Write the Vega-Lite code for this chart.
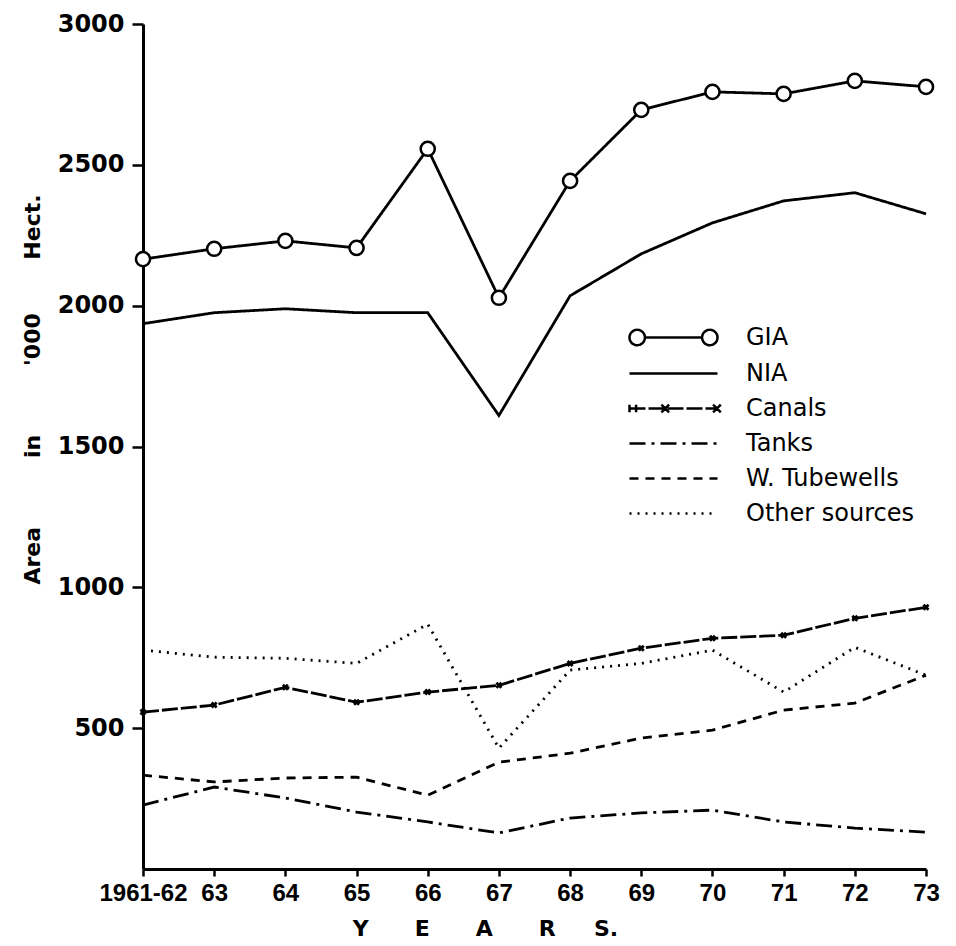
{
  "$schema": "https://vega.github.io/schema/vega-lite/v6.json",
  "width": 783,
  "height": 845,
  "autosize": {"type": "none"},
  "padding": {"left": 143, "top": 24, "right": 30, "bottom": 77},
  "background": "white",
  "config": {
    "view": {"stroke": null},
    "axis": {"domainColor": "black", "tickColor": "black", "labelColor": "black", "titleColor": "black", "grid": false}
  },
  "data": {"values": [
    {"year": "1961-62", "series": "GIA", "value": 2165},
    {"year": "63", "series": "GIA", "value": 2202},
    {"year": "64", "series": "GIA", "value": 2230},
    {"year": "65", "series": "GIA", "value": 2205},
    {"year": "66", "series": "GIA", "value": 2557},
    {"year": "67", "series": "GIA", "value": 2028},
    {"year": "68", "series": "GIA", "value": 2443},
    {"year": "69", "series": "GIA", "value": 2695},
    {"year": "70", "series": "GIA", "value": 2759},
    {"year": "71", "series": "GIA", "value": 2752},
    {"year": "72", "series": "GIA", "value": 2798},
    {"year": "73", "series": "GIA", "value": 2777},
    {"year": "1961-62", "series": "NIA", "value": 1936},
    {"year": "63", "series": "NIA", "value": 1975},
    {"year": "64", "series": "NIA", "value": 1989},
    {"year": "65", "series": "NIA", "value": 1975},
    {"year": "66", "series": "NIA", "value": 1975},
    {"year": "67", "series": "NIA", "value": 1610},
    {"year": "68", "series": "NIA", "value": 2035},
    {"year": "69", "series": "NIA", "value": 2184},
    {"year": "70", "series": "NIA", "value": 2294},
    {"year": "71", "series": "NIA", "value": 2372},
    {"year": "72", "series": "NIA", "value": 2401},
    {"year": "73", "series": "NIA", "value": 2326},
    {"year": "1961-62", "series": "Canals", "value": 557},
    {"year": "63", "series": "Canals", "value": 582},
    {"year": "64", "series": "Canals", "value": 645},
    {"year": "65", "series": "Canals", "value": 592},
    {"year": "66", "series": "Canals", "value": 628},
    {"year": "67", "series": "Canals", "value": 652},
    {"year": "68", "series": "Canals", "value": 730},
    {"year": "69", "series": "Canals", "value": 784},
    {"year": "70", "series": "Canals", "value": 819},
    {"year": "71", "series": "Canals", "value": 830},
    {"year": "72", "series": "Canals", "value": 890},
    {"year": "73", "series": "Canals", "value": 929},
    {"year": "1961-62", "series": "Tanks", "value": 227},
    {"year": "63", "series": "Tanks", "value": 291},
    {"year": "64", "series": "Tanks", "value": 252},
    {"year": "65", "series": "Tanks", "value": 202},
    {"year": "66", "series": "Tanks", "value": 167},
    {"year": "67", "series": "Tanks", "value": 128},
    {"year": "68", "series": "Tanks", "value": 181},
    {"year": "69", "series": "Tanks", "value": 199},
    {"year": "70", "series": "Tanks", "value": 209},
    {"year": "71", "series": "Tanks", "value": 167},
    {"year": "72", "series": "Tanks", "value": 145},
    {"year": "73", "series": "Tanks", "value": 131},
    {"year": "1961-62", "series": "W. Tubewells", "value": 333},
    {"year": "63", "series": "W. Tubewells", "value": 309},
    {"year": "64", "series": "W. Tubewells", "value": 323},
    {"year": "65", "series": "W. Tubewells", "value": 326},
    {"year": "66", "series": "W. Tubewells", "value": 262},
    {"year": "67", "series": "W. Tubewells", "value": 379},
    {"year": "68", "series": "W. Tubewells", "value": 411},
    {"year": "69", "series": "W. Tubewells", "value": 465},
    {"year": "70", "series": "W. Tubewells", "value": 493},
    {"year": "71", "series": "W. Tubewells", "value": 564},
    {"year": "72", "series": "W. Tubewells", "value": 589},
    {"year": "73", "series": "W. Tubewells", "value": 688},
    {"year": "1961-62", "series": "Other sources", "value": 777},
    {"year": "63", "series": "Other sources", "value": 752},
    {"year": "64", "series": "Other sources", "value": 748},
    {"year": "65", "series": "Other sources", "value": 730},
    {"year": "66", "series": "Other sources", "value": 869},
    {"year": "67", "series": "Other sources", "value": 429},
    {"year": "68", "series": "Other sources", "value": 706},
    {"year": "69", "series": "Other sources", "value": 730},
    {"year": "70", "series": "Other sources", "value": 777},
    {"year": "71", "series": "Other sources", "value": 628},
    {"year": "72", "series": "Other sources", "value": 787},
    {"year": "73", "series": "Other sources", "value": 688}
  ]},
  "encoding": {
    "x": {
      "field": "year", "type": "ordinal",
      "sort": ["1961-62", "63", "64", "65", "66", "67", "68", "69", "70", "71", "72", "73"],
      "scale": {"type": "point", "padding": 0},
      "axis": {
        "title": "Y\u00a0\u00a0\u00a0\u00a0\u00a0\u00a0E\u00a0\u00a0\u00a0\u00a0\u00a0\u00a0A\u00a0\u00a0\u00a0\u00a0\u00a0\u00a0R\u00a0\u00a0\u00a0\u00a0\u00a0S.",
        "titleFont": "DejaVu Sans", "titleFontSize": 22, "titleFontWeight": "bold",
        "titleX": 342, "titleY": 59, "titleAnchor": null, "titleAlign": "center", "titleBaseline": "middle",
        "labelAngle": 0, "labelFont": "Liberation Sans",
        "labelFontSize": 24, "labelFontWeight": "bold", "labelPadding": 5, "labelOverlap": false,
        "domainWidth": 3, "tickSize": 7, "tickWidth": 2.5
      }
    },
    "y": {
      "field": "value", "type": "quantitative",
      "scale": {"domain": [0, 3000], "nice": false},
      "axis": {
        "values": [500, 1000, 1500, 2000, 2500, 3000], "format": "d",
        "title": "Area\u00a0\u00a0\u00a0\u00a0\u00a0\u00a0\u00a0\u00a0\u00a0in\u00a0\u00a0\u00a0\u00a0\u00a0\u00a0\u00a0\u00a0\u00a0'000\u00a0\u00a0\u00a0\u00a0\u00a0\u00a0\u00a0Hect.",
        "titleFont": "DejaVu Sans", "titleFontSize": 22, "titleFontWeight": "bold",
        "titleAngle": 270, "titleX": -111, "titleY": 365, "titleAlign": "center", "titleBaseline": "middle",
        "labelFont": "DejaVu Sans", "labelFontSize": 24, "labelFontWeight": "bold", "labelPadding": 8,
        "domainWidth": 3, "tickSize": 11, "tickWidth": 2.5
      }
    }
  },
  "layer": [
    {
      "mark": {"type": "line", "color": "black", "strokeWidth": 2.8},
      "encoding": {
        "strokeDash": {
          "field": "series", "type": "nominal",
          "scale": {
            "domain": ["GIA", "NIA", "Canals", "Tanks", "W. Tubewells", "Other sources"],
            "range": [[1, 0], [1, 0], [16, 3], [16, 6, 3, 6], [9, 7], [2, 6]]
          },
          "legend": {
            "title": null, "orient": "none", "legendX": 518, "legendY": 301, "padding": 0,
            "symbolSize": 484, "symbolStrokeWidth": 2.5, "symbolStrokeColor": "black", "symbolFillColor": "transparent",
            "labelFont": "DejaVu Sans", "labelFontSize": 24, "labelColor": "black", "labelOffset": 60, "labelLimit": 0,
            "rowPadding": 10,
            "encode": {"symbols": {"update": {"shape": {"signal": "datum.value === 'GIA' ? 'M-4,0A0.7,0.7 0 1,1 -2.6,0A0.7,0.7 0 1,1 -4,0M-2.6,0L2.6,0M2.6,0A0.7,0.7 0 1,1 4,0A0.7,0.7 0 1,1 2.6,0' : datum.value === 'Canals' ? 'M-4,0L4,0M-4,-0.35L-4,0.35M-3.4,-0.35L-3.4,0.35M-1.1,-0.35L-0.4,0.35M-1.1,0.35L-0.4,-0.35M3.6,-0.35L4.3,0.35M3.6,0.35L4.3,-0.35' : 'M-4,0L4,0'"}}}}
          }
        }
      }
    },
    {
      "transform": [{"filter": "datum.series === 'GIA'"}],
      "mark": {"type": "point", "shape": "circle", "filled": true, "fill": "white", "stroke": "black", "strokeWidth": 2.5, "size": 200, "opacity": 1}
    },
    {
      "transform": [{"filter": "datum.series === 'Canals'"}],
      "mark": {"type": "point", "shape": "cross", "angle": 45, "filled": true, "color": "black", "size": 50, "opacity": 1}
    }
  ]
}
